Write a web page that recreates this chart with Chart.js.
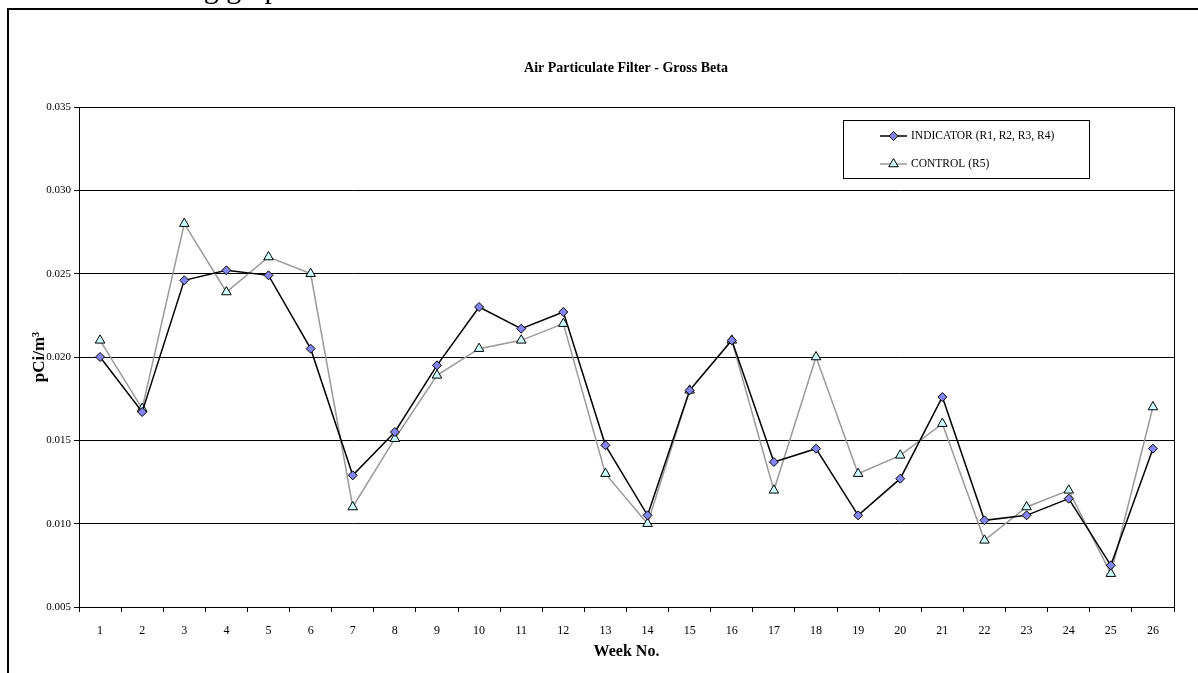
<!DOCTYPE html>
<html>
<head>
<meta charset="utf-8">
<title>Air Particulate Filter - Gross Beta</title>
<script src="https://cdn.jsdelivr.net/npm/chart.js@4.4.1/dist/chart.umd.min.js"></script>
<style>
  html, body { margin: 0; padding: 0; background: #fff; overflow: hidden; }
  #chart { display: block; }
</style>
</head>
<body>
<canvas id="chart" width="1198" height="673"></canvas>
<script>
// Datos
const weeks = ['1', '2', '3', '4', '5', '6', '7', '8', '9', '10', '11', '12', '13',
               '14', '15', '16', '17', '18', '19', '20', '21', '22', '23', '24', '25', '26'];
const indicator = [0.0200, 0.0167, 0.0246, 0.0252, 0.0249, 0.0205, 0.0129, 0.0155, 0.0195, 0.0230, 0.0217, 0.0227, 0.0147,
                   0.0105, 0.0180, 0.0210, 0.0137, 0.0145, 0.0105, 0.0127, 0.0176, 0.0102, 0.0105, 0.0115, 0.0075, 0.0145];
const control = [0.0210, 0.0169, 0.0280, 0.0239, 0.0260, 0.0250, 0.0110, 0.0151, 0.0189, 0.0205, 0.0210, 0.0220, 0.0130,
                 0.0100, 0.0180, 0.0210, 0.0120, 0.0200, 0.0130, 0.0141, 0.0160, 0.0090, 0.0110, 0.0120, 0.0070, 0.0170];
const yTicks = [0.005, 0.010, 0.015, 0.020, 0.025, 0.030, 0.035];

const FONT = '"Liberation Serif", "Times New Roman", serif';

document.addEventListener('DOMContentLoaded', function() {
    initChart();
});

function initChart() {
    // Marco, titulos y leyenda dibujados a mano
    const decor = {
        id: 'decor',
        beforeDraw(chart) {
            const ctx = chart.ctx;
            ctx.save();
            ctx.fillStyle = '#fff';
            ctx.fillRect(0, 0, chart.width, chart.height);
            // texto del documento cortado arriba
            ctx.fillStyle = '#000';
            ctx.font = '30px ' + FONT;
            ctx.textBaseline = 'alphabetic';
            ctx.textAlign = 'left';
            ctx.fillText('the following graph', 58, -2);
            // marco exterior
            ctx.strokeStyle = '#000';
            ctx.lineWidth = 2;
            ctx.strokeRect(8, 9, chart.width + 20, chart.height + 20);
            ctx.restore();
        },
        beforeDatasetsDraw(chart) {
            const a = chart.chartArea;
            const ctx = chart.ctx;
            ctx.save();
            ctx.strokeStyle = '#000';
            ctx.lineWidth = 1;
            ctx.strokeRect(Math.round(a.left) + 0.5, Math.round(a.top) + 0.5,
                           Math.round(a.right - a.left), Math.round(a.bottom - a.top));
            ctx.restore();
        },
        afterDraw(chart) {
            const ctx = chart.ctx;
            const a = chart.chartArea;
            ctx.save();
            ctx.fillStyle = '#000';
            ctx.textAlign = 'center';
            ctx.textBaseline = 'middle';
            ctx.font = 'bold 14px ' + FONT;
            ctx.fillText('Air Particulate Filter - Gross Beta', 626, 68);
            ctx.font = 'bold 16px ' + FONT;
            ctx.fillText('Week No.', (a.left + a.right) / 2, 652);
            ctx.translate(40, (a.top + a.bottom) / 2);
            ctx.rotate(-Math.PI / 2);
            ctx.font = 'bold 17px ' + FONT;
            ctx.fillText('pCi/m\u00B3', 0, 0);
            ctx.restore();

            // leyenda
            ctx.save();
            ctx.strokeStyle = '#000';
            ctx.lineWidth = 1;
            ctx.strokeRect(843.5, 120.5, 246, 58);
            const rows = [136, 164];
            chart.data.datasets.forEach((ds, i) => {
                const y = rows[i];
                ctx.strokeStyle = ds.borderColor;
                ctx.lineWidth = ds.borderWidth;
                ctx.beginPath();
                ctx.moveTo(880, y);
                ctx.lineTo(907, y);
                ctx.stroke();
                ctx.fillStyle = ds.pointBackgroundColor;
                ctx.strokeStyle = ds.pointBorderColor;
                ctx.lineWidth = 1;
                Chart.helpers.drawPoint(ctx, {
                    pointStyle: ds.pointStyle,
                    radius: ds.pointRadius,
                    borderWidth: 1,
                    rotation: 0
                }, 893.5, y);
                ctx.fillStyle = '#000';
                ctx.font = '11.5px ' + FONT;
                ctx.textAlign = 'left';
                ctx.textBaseline = 'middle';
                ctx.fillText(ds.label, 911, y);
            });
            ctx.restore();
        }
    };

    const ctx = document.getElementById('chart').getContext('2d');
    new Chart(ctx, {
        type: 'line',
        data: {
            labels: weeks,
            datasets: [{
                label: 'INDICATOR (R1, R2, R3, R4)',
                data: indicator,
                borderColor: '#000000',
                borderWidth: 1.5,
                pointStyle: 'rectRot',
                pointRadius: 4.5,
                pointBackgroundColor: '#8585F2',
                pointBorderColor: '#000000',
                pointBorderWidth: 1,
                tension: 0
            }, {
                label: 'CONTROL (R5)',
                data: control,
                borderColor: '#999999',
                borderWidth: 1.5,
                pointStyle: 'triangle',
                pointRadius: 5.5,
                pointBackgroundColor: '#CCFFFF',
                pointBorderColor: '#000000',
                pointBorderWidth: 1,
                tension: 0
            }]
        },
        options: {
            responsive: false,
            animation: false,
            layout: {
                padding: { left: 0, right: 24, top: 107, bottom: 0 }
            },
            scales: {
                x: {
                    type: 'category',
                    offset: true,
                    afterFit: function(scale) { scale.height = 66; },
                    grid: {
                        offset: true,
                        drawOnChartArea: false,
                        drawTicks: true,
                        tickLength: 5,
                        color: '#000'
                    },
                    border: { display: true, color: '#000', width: 1 },
                    ticks: {
                        color: '#000',
                        padding: 12,
                        maxRotation: 0,
                        autoSkip: false,
                        font: { family: FONT, size: 12 }
                    }
                },
                y: {
                    min: 0.005,
                    max: 0.035,
                    afterFit: function(scale) { scale.width = 79; },
                    afterBuildTicks: function(scale) {
                        scale.ticks = yTicks.map(v => ({ value: v }));
                    },
                    grid: {
                        color: '#000',
                        lineWidth: 1,
                        drawTicks: true,
                        tickLength: 5
                    },
                    border: { display: true, color: '#000', width: 1 },
                    ticks: {
                        color: '#000',
                        padding: 3,
                        font: { family: FONT, size: 11 },
                        callback: function(value) { return Number(value).toFixed(3); }
                    }
                }
            },
            plugins: {
                legend: { display: false },
                title: { display: false },
                tooltip: { enabled: false }
            }
        },
        plugins: [decor]
    });
}
</script>
</body>
</html>
